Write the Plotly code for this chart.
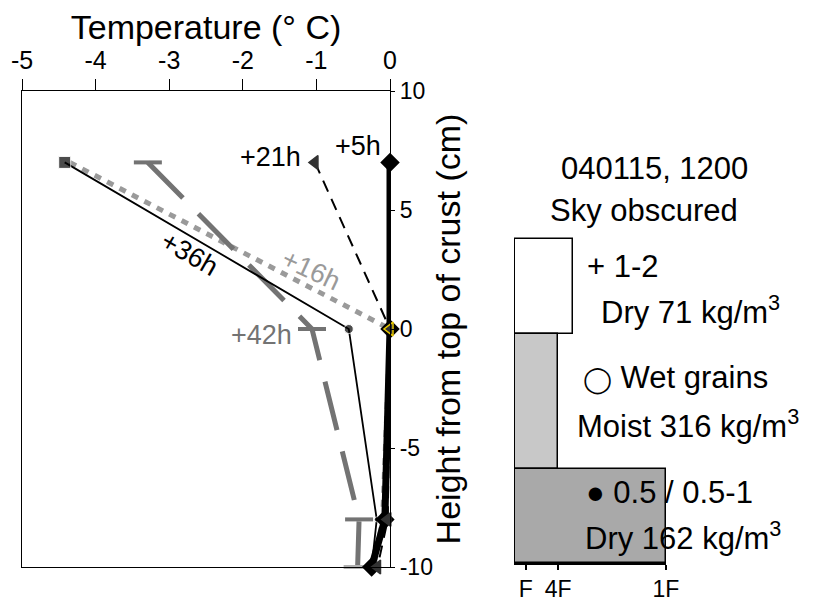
import plotly.graph_objects as go

# page body has an 8px margin: figure occupies the window from (8, 8)
OFF = 8
W, H = 823 - OFF, 599 - OFF

# ---- Temperature profiles (temperature degC vs height cm) ----
height = [7, 0, -8, -10]
t_5h = [0.0, 0.0, -0.07, -0.25]
t_21h = [-1.02, 0.0, -0.03, -0.17]
t_16h = [-4.35, 0.0, -0.1, -0.22]
t_36h = [-4.42, -0.56, -0.18, -0.25]
t_42h = [-3.29, -1.06, -0.42, -0.44]

temp_ticks = [-5, -4, -3, -2, -1, 0]
temp_ticktext = ["-5", "-4", "-3", "-2", "-1", "0"]
height_ticks = [10, 5, 0, -5, -10]
height_ticktext = ["10", "5", "0", "-5", "-10"]

# ---- Snow layers (hardness profile) ----
layer_bottom = [17, 7, 0]
layer_thick = [7, 10, 7]
layer_hard = [5.4, 4, 14]
layer_fill = ["white", "#c8c8c8", "#a9a9a9"]
hard_ticks_pos = [1, 4, 14]
hard_ticks_lab = ["F", "4F", "1F"]

FONT = "Liberation Sans, Arial, sans-serif"


def px(x):
    return (x - OFF) / W


def py(y):
    return 1 - (y - OFF) / H


fig = go.Figure()

fig.add_trace(go.Scatter(x=t_16h, y=height, mode="lines", line=dict(color="#9a9a9a", width=5, dash="7px,7px"),
                         xaxis="x", yaxis="y", cliponaxis=False))
fig.add_trace(go.Scatter(x=t_42h, y=height, mode="lines+markers",
                         line=dict(color="#737373", width=5, dash="50px,22px"),
                         marker=dict(symbol="line-ew", size=20,
                                     line=dict(width=4, color=["#737373", "#737373", "#737373", "#b0b0b0"])),
                         xaxis="x", yaxis="y", cliponaxis=False))
fig.add_trace(go.Scatter(x=t_36h, y=height, mode="lines+markers", line=dict(color="black", width=1.8),
                         marker=dict(symbol=["square", "circle", "circle", "circle"], size=[12, 9, 5, 5], color="black"),
                         xaxis="x", yaxis="y", cliponaxis=False))
fig.add_trace(go.Scatter(x=t_5h, y=height, mode="lines+markers", line=dict(color="black", width=7),
                         marker=dict(symbol="diamond", size=15, color="black"),
                         xaxis="x", yaxis="y", cliponaxis=False))
fig.add_trace(go.Scatter(x=t_21h, y=height, mode="lines+markers", line=dict(color="black", width=2, dash="12px,8px"),
                         marker=dict(symbol="triangle-left", size=12, color="#333333",
                                     line=dict(color=["#333333", "#e8c800", "#333333", "#333333"], width=1.5)),
                         xaxis="x", yaxis="y", cliponaxis=False))

# Hardness profile bars
fig.add_trace(go.Bar(x=layer_hard, y=[b + t / 2 for b, t in zip(layer_bottom, layer_thick)], width=layer_thick,
                     orientation="h", base=0, marker=dict(color=layer_fill, line=dict(color="black", width=1.5)),
                     xaxis="x2", yaxis="y2"))

fig.update_layout(
    width=W, height=H, margin=dict(l=0, r=0, t=0, b=0, autoexpand=False),
    paper_bgcolor="white", plot_bgcolor="white", showlegend=False,
    font=dict(family=FONT, color="black"),
    bargap=0,
    xaxis=dict(domain=[px(22), px(390)], range=[-5, 0], side="top",
               tickvals=temp_ticks, ticktext=temp_ticktext,
               ticks="outside", ticklen=11, tickwidth=1.2, tickcolor="black",
               showline=True, linecolor="black", linewidth=1.2, mirror=True,
               showgrid=False, zeroline=False, tickfont=dict(size=25), automargin=False,
               title=dict(text="Temperature (° C)", font=dict(size=34), standoff=16),
               anchor="y"),
    yaxis=dict(domain=[py(567), py(91)], range=[-10, 10], side="right",
               tickvals=height_ticks, ticktext=height_ticktext,
               ticks="outside", ticklen=4, tickwidth=1.2, tickcolor="black",
               showline=True, linecolor="black", linewidth=1.2, mirror=True,
               showgrid=False, zeroline=False, tickfont=dict(size=23), automargin=False,
               title=dict(text="Height from top of crust (cm)", font=dict(size=34), standoff=4),
               anchor="x"),
    xaxis2=dict(domain=[px(514), px(666)], range=[-0.1, 14], tickvals=hard_ticks_pos, ticktext=hard_ticks_lab,
                ticks="outside", ticklen=5, tickwidth=1.5, tickcolor="black",
                showline=True, linecolor="black", linewidth=1.5, showgrid=False, zeroline=False,
                tickfont=dict(size=23), automargin=False, anchor="y2"),
    yaxis2=dict(domain=[py(563), py(237)], range=[0, 24.15], visible=False, anchor="x2", automargin=False),
)

# Series labels (data coordinates)
labels = [
    ("+5h", -0.43, 7.7, 0, "black"),
    ("+21h", -1.63, 7.22, 0, "black"),
    ("+36h", -2.72, 3.15, 30, "black"),
    ("+16h", -1.07, 2.5, 25, "#9a9a9a"),
    ("+42h", -1.75, -0.25, 0, "#737373"),
]
for txt, x, y, ang, col in labels:
    fig.add_annotation(text=txt, x=x, y=y, xref="x", yref="y", showarrow=False, textangle=ang,
                       font=dict(size=27, color=col, family=FONT))

# Right-panel texts (paper coordinates from pixel positions)
panel_text = [
    ("040115, 1200", 654, 168),
    ("Sky obscured", 644, 211),
    ("+ 1-2", 623, 267),
    ("Dry 71 kg/m<sup>3</sup>", 690, 310),
    ("<span style='font-size:26px'>◯</span> Wet grains", 675, 377),
    ("Moist 316 kg/m<sup>3</sup>", 688, 424),
    ("● 0.5 / 0.5-1", 669, 492),
    ("Dry 162 kg/m<sup>3</sup>", 683, 536),
]
for txt, x, y in panel_text:
    fig.add_annotation(text=txt, x=px(x), y=py(y), xref="paper", yref="paper", showarrow=False,
                       xanchor="center", yanchor="middle", font=dict(size=31, family=FONT))

fig.write_html("out.html")
